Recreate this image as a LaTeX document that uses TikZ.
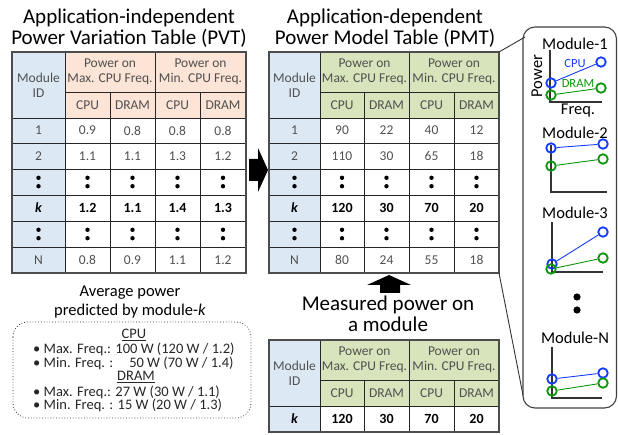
\documentclass[tikz,border=0pt]{standalone}
\usepackage{fontspec}
\setmainfont{Carlito}
\definecolor{idblue}{RGB}{221,232,245}
\definecolor{pvtor}{RGB}{252,228,214}
\definecolor{pmtgr}{RGB}{216,228,188}
\definecolor{cpublue}{RGB}{20,60,255}
\definecolor{dramgr}{RGB}{10,150,10}
\definecolor{txtgray}{RGB}{80,80,80}
\newcommand\setcols[6]{\def\xA{#1}\def\xB{#2}\def\xC{#3}\def\xD{#4}\def\xE{#5}\def\xF{#6}%
  \pgfmathsetmacro\cA{(#1+#2)/2}\pgfmathsetmacro\cB{(#2+#3)/2}\pgfmathsetmacro\cC{(#3+#4)/2}%
  \pgfmathsetmacro\cD{(#4+#5)/2}\pgfmathsetmacro\cE{(#5+#6)/2}}
% header: #1 prefix, #2 color, #3 ytop, #4 ymid, #5 ybot, #6 ybottom of table
\newcommand\thead[6]{%
  \fill[idblue] (\xA,#3) rectangle (\xB,#6);
  \fill[#2] (\xB,#3) rectangle (\xF,#5);
  \draw[grid] (\xB,#4) -- (\xF,#4);
  \draw[grid] (\xA,#5) -- (\xF,#5);
  \draw[grid] (\xB,#3) -- (\xB,#6);
  \draw[grid] (\xD,#3) -- (\xD,#6);
  \draw[grid] (\xC,#4) -- (\xC,#6);
  \draw[grid] (\xE,#4) -- (\xE,#6);
  \node[cell] (#1-id) at (\cA,{(#3+#5)/2}) {Module\\ID};
  \node[cell] (#1-max) at ({(\xB+\xD)/2},{(#3+#4)/2}) {Power on\\Max. CPU Freq.};
  \node[cell] (#1-min) at ({(\xD+\xF)/2},{(#3+#4)/2}) {Power on\\Min. CPU Freq.};
  \node[cell] (#1-h1) at (\cB,{(#4+#5)/2}) {CPU};
  \node[cell] (#1-h2) at (\cC,{(#4+#5)/2}) {DRAM};
  \node[cell] (#1-h3) at (\cD,{(#4+#5)/2}) {CPU};
  \node[cell] (#1-h4) at (\cE,{(#4+#5)/2}) {DRAM};
}
% body row: #1 style, #2 name, #3 ycenter, #4 id, #5-#8 values
\newcommand\brow[8]{%
  \node[#1] (#2-id) at (\cA,#3) {#4};
  \node[#1] (#2-a) at (\cB,#3) {#5};
  \node[#1] (#2-b) at (\cC,#3) {#6};
  \node[#1] (#2-c) at (\cD,#3) {#7};
  \node[#1] (#2-d) at (\cE,#3) {#8};
}
\newcommand\drow[1]{%
  \foreach \cc in {\cA,\cB,\cC,\cD,\cE}{%
    \fill (\cc,#1-4.2) circle (2.2);
    \fill (\cc,#1+4.2) circle (2.2);}
}
\begin{document}
\begin{tikzpicture}[x=1pt,y=-1pt,
  grid/.style={line width=0.9pt,black!85},
  outer/.style={line width=1.4pt,black!70},
  cell/.style={font=\fontsize{13.5}{15}\selectfont,text=txtgray,align=center,inner sep=0pt},
  kcell/.style={font=\fontsize{14}{15}\selectfont\bfseries,text=black,align=center,inner sep=0pt},
  title/.style={font=\fontsize{21}{21.5}\selectfont,align=center,inner sep=0pt},
  modlbl/.style={font=\fontsize{16.5}{16.5}\selectfont,inner sep=0pt},
  axis/.style={line width=1.1pt,black!80},
  cpuc/.style={circle,draw=cpublue,line width=1.8pt,minimum size=9.5pt,inner sep=0pt},
  dramc/.style={circle,draw=dramgr,line width=1.8pt,minimum size=9.5pt,inner sep=0pt},
  cpul/.style={cpublue,line width=0.9pt},
  draml/.style={dramgr,line width=0.9pt},
  boxtxt/.style={font=\fontsize{14.5}{15}\selectfont,inner sep=0pt,text=black!85},
]
\useasboundingbox (0,0) rectangle (618,435);

% ---------- titles ----------
\node[title] (t1) at (129,28) {Application-independent\\Power Variation Table (PVT)};
\node[title] (t2) at (385,28) {Application-dependent\\Power Model Table (PMT)};

% ---------- PVT ----------
\setcols{12}{65}{110}{155}{200}{246}
\thead{L}{pvtor}{52}{92}{118}{273}
\foreach \y in {143,169,195,221,247} \draw[grid] (\xA,\y) -- (\xF,\y);
\draw[outer] (\xA,52) rectangle (\xF,273);
\brow{cell}{L1}{130.5}{1}{0.9}{0.8}{0.8}{0.8}
\brow{cell}{L2}{156}{2}{1.1}{1.1}{1.3}{1.2}
\drow{182}
\brow{kcell}{Lk}{208}{\textit{k}}{1.2}{1.1}{1.4}{1.3}
\drow{234}
\brow{cell}{LN}{260}{N}{0.8}{0.9}{1.1}{1.2}

% ---------- PMT ----------
\setcols{269}{320}{364}{409}{454}{499}
\thead{R}{pmtgr}{52}{92}{118}{273}
\foreach \y in {143,169,195,221,247} \draw[grid] (\xA,\y) -- (\xF,\y);
\draw[outer] (\xA,52) rectangle (\xF,273);
\brow{cell}{R1}{130.5}{1}{90}{22}{40}{12}
\brow{cell}{R2}{156}{2}{110}{30}{65}{18}
\drow{182}
\brow{kcell}{Rk}{208}{\textit{k}}{120}{30}{70}{20}
\drow{234}
\brow{cell}{RN}{260}{N}{80}{24}{55}{18}

% ---------- measured table ----------
\node[title] (t3) at (388,314) {Measured power on\\a module};
\thead{B}{pmtgr}{340}{380}{406}{432}
\draw[outer] (\xA,340) rectangle (\xF,432);
\brow{kcell}{Bk}{419}{\textit{k}}{120}{30}{70}{20}

% ---------- block arrows ----------
\fill (249,159) -- (258,159) -- (258,148) -- (268,170) -- (258,192) -- (258,181) -- (249,181) -- cycle;
\fill (380,293) -- (380,285) -- (367,285) -- (389,275) -- (411,285) -- (400,285) -- (400,293) -- cycle;

% ---------- side panel ----------
\draw[line width=1.1pt,black!75,rounded corners=12] (523,27) rectangle (616.5,408);
\coordinate (ptop) at (525,37);
\coordinate (pbot) at (523,395);
\draw[line width=0.9pt,black!80] (499,52) -- (ptop);
\draw[line width=0.9pt,black!80] (499,273) -- (pbot);

% Module-1
\node[modlbl] (m1) at (575,44) {Module-1};
\draw[axis] (550,50) |- (602,102);
\node[modlbl,rotate=90] (pw) at (537,76) {Power};
\node[modlbl] (fq) at (578,111) {Freq.};
\node[cpuc] (m1c1) at (551,83) {};
\node[cpuc] (m1c2) at (601,62) {};
\node[dramc] (m1d1) at (551,95) {};
\node[dramc] (m1d2) at (601,88) {};
\draw[cpul] (m1c1) -- (m1c2);
\draw[draml] (m1d1) -- (m1d2);
\node[font=\fontsize{12.5}{12.5}\selectfont,text=cpublue,inner sep=0pt] (cpulbl) at (575,63) {CPU};
\node[font=\fontsize{12.5}{12.5}\selectfont,text=dramgr,inner sep=0pt] (dramlbl) at (578,83) {DRAM};

% Module-2
\node[modlbl] (m2) at (575,133) {Module-2};
\draw[axis] (551,145) |- (607,192);
\node[cpuc] (m2c1) at (551,148) {};
\node[cpuc] (m2c2) at (603,144) {};
\node[dramc] (m2d1) at (551,166) {};
\node[dramc] (m2d2) at (603,159) {};
\draw[cpul] (m2c1) -- (m2c2);
\draw[draml] (m2d1) -- (m2d2);

% Module-3
\node[modlbl] (m3) at (575,213) {Module-3};
\draw[axis] (552,222) |- (603,272);
\node[cpuc] (m3c1) at (552,264) {};
\node[cpuc] (m3c2) at (603,232) {};
\node[dramc] (m3d1) at (551,269) {};
\node[dramc] (m3d2) at (603,258) {};
\draw[cpul] (m3c1) -- (m3c2);
\draw[draml] (m3d1) -- (m3d2);

% dots
\fill (577,297) circle (3.6);
\fill (577,310) circle (3.6);

% Module-N
\node[modlbl] (mN) at (575,338) {Module-N};
\draw[axis] (552,347) |- (602,398);
\node[cpuc] (mNc1) at (552,379) {};
\node[cpuc] (mNc2) at (603,373) {};
\node[dramc] (mNd1) at (552,391) {};
\node[dramc] (mNd2) at (603,383) {};
\draw[cpul] (mNc1) -- (mNc2);
\draw[draml] (mNd1) -- (mNd2);

% ---------- bottom-left box ----------
\node[font=\fontsize{16.5}{19}\selectfont,align=center,inner sep=0pt] (avg) at (130,302.5) {Average power\\predicted by module-\textit{k}};
\draw[dotted,line width=0.8pt,black!80,rounded corners=15] (13,322) rectangle (251,418);
\node[boxtxt] (cpuh) at (134,335) {\underline{CPU}};
\node[boxtxt,anchor=west] (b1) at (33,349) {• Max. Freq.: 100 W (120 W / 1.2)};
\node[boxtxt,anchor=west] (b2) at (33,363) {• Min. Freq. :\hspace{1.1em}50 W (70 W / 1.4)};
\node[boxtxt] (dramh) at (136,377) {\underline{DRAM}};
\node[boxtxt,anchor=west] (b3) at (33,392) {• Max. Freq.: 27 W (30 W / 1.1)};
\node[boxtxt,anchor=west] (b4) at (33,405) {• Min. Freq. : 15 W (20 W / 1.3)};
\end{tikzpicture}
\end{document}
